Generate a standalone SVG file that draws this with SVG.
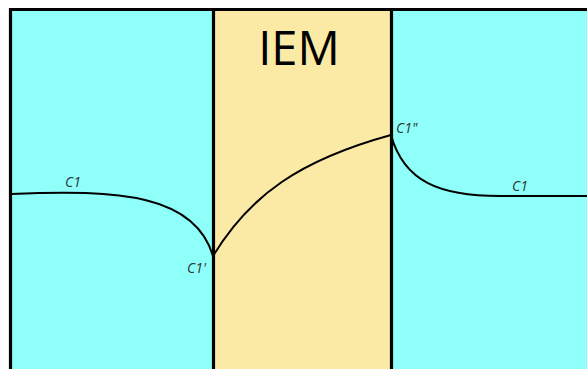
<svg xmlns="http://www.w3.org/2000/svg" width="587" height="369" viewBox="0 0 587 369">
<style>
.lbl{font-family:"Open Sans","Noto Sans","Liberation Sans",sans-serif;font-style:italic;font-size:14px;fill:#2b3535}
.wall{stroke:#000;stroke-width:3.2;fill:none}
.crv{stroke:#000;fill:none;stroke-width:2}
</style>
<rect x="0" y="0" width="587" height="369" fill="#fff"/>
<g id="left-solution"><rect x="10.5" y="9.5" width="203" height="360" fill="#8ffff9"/></g>
<g id="membrane"><rect x="213.5" y="9.5" width="178" height="360" fill="#fbe9a6"/>
<text x="299" y="65" text-anchor="middle" font-family="Open Sans, Noto Sans, Liberation Sans, sans-serif" font-size="47" fill="#000">IEM</text></g>
<g id="right-solution"><rect x="391.5" y="9.5" width="196" height="360" fill="#8ffff9"/></g>
<g id="walls">
<path class="wall" d="M10.5,369 V9.5 H587"/>
<path class="wall" d="M213.5,9.5 V369"/>
<path class="wall" d="M391.5,9.5 V369"/>
</g>
<g id="connectors">
<path class="crv" d="M11,194 C120,189 195,195 213,256"/>
<path class="crv" stroke-width="1.3" d="M213,256 C250,195 300,160 391,135"/>
<path class="crv" d="M391,135 C404,182 440,196 500,196 L587,196"/>
</g>
<g id="labels">
<text class="lbl" x="65" y="187">C1</text>
<text class="lbl" x="187" y="273">C1'</text>
<text class="lbl" x="396" y="133">C1"</text>
<text class="lbl" x="512" y="191">C1</text>
</g>
</svg>
